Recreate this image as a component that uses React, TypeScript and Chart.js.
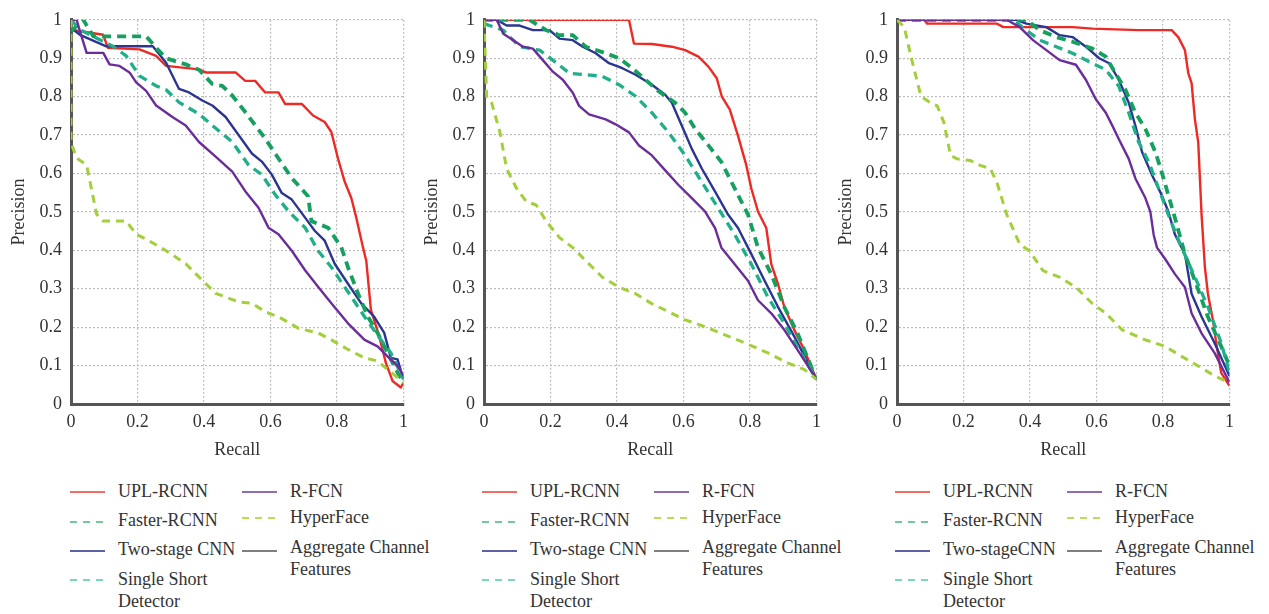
import React, { useEffect, useRef } from "react";
import { Chart, registerables } from "chart.js";

Chart.register(...registerables);

// ---------- Data (recall, precision) ----------
const X_TICK_LABELS = ["0", "0.2", "0.4", "0.6", "0.8", "1"];
const Y_TICK_LABELS = ["0", "0.1", "0.2", "0.3", "0.4", "0.5", "0.6", "0.7", "0.8", "0.9", "1"];

const NAMES_A = ["UPL-RCNN", "Faster-RCNN", "Two-stage CNN", "Single Short Detector", "R-FCN", "HyperFace", "Aggregate Channel Features"];
const NAMES_B = ["UPL-RCNN", "Faster-RCNN", "Two-stageCNN", "Single Short Detector", "R-FCN", "HyperFace", "Aggregate Channel Features"];

// Panel 1
const P1_UPL = [[0,0.974],[0.097,0.961],[0.111,0.927],[0.206,0.923],[0.256,0.906],[0.286,0.88],[0.385,0.871],[0.405,0.863],[0.495,0.863],[0.524,0.841],[0.554,0.841],[0.584,0.811],[0.624,0.811],[0.644,0.781],[0.694,0.781],[0.728,0.751],[0.763,0.734],[0.783,0.708],[0.803,0.639],[0.823,0.579],[0.843,0.536],[0.858,0.485],[0.878,0.408],[0.888,0.373],[0.902,0.245],[0.927,0.176],[0.947,0.107],[0.967,0.06],[0.992,0.043],[1,0.056]];
const P1_FASTER = [[0,0.97],[0.037,1.0],[0.067,0.957],[0.226,0.957],[0.256,0.927],[0.286,0.9],[0.345,0.884],[0.385,0.87],[0.425,0.833],[0.455,0.828],[0.485,0.803],[0.524,0.76],[0.584,0.691],[0.624,0.639],[0.664,0.588],[0.713,0.541],[0.723,0.476],[0.773,0.459],[0.813,0.408],[0.833,0.356],[0.863,0.288],[0.893,0.227],[0.922,0.185],[0.952,0.133],[0.982,0.082],[1,0.056]];
const P1_TWOSTAGE = [[0,0.979],[0.027,0.961],[0.106,0.931],[0.246,0.931],[0.286,0.888],[0.325,0.82],[0.355,0.811],[0.395,0.79],[0.425,0.777],[0.465,0.747],[0.504,0.7],[0.544,0.652],[0.574,0.631],[0.604,0.597],[0.634,0.549],[0.664,0.532],[0.704,0.485],[0.733,0.451],[0.763,0.425],[0.793,0.365],[0.833,0.313],[0.873,0.262],[0.912,0.227],[0.942,0.185],[0.962,0.12],[0.982,0.116],[1,0.064]];
const P1_SSD = [[0,1.0],[0.027,0.974],[0.126,0.931],[0.166,0.906],[0.206,0.854],[0.256,0.828],[0.286,0.818],[0.325,0.785],[0.385,0.755],[0.425,0.725],[0.485,0.682],[0.534,0.622],[0.574,0.597],[0.614,0.545],[0.654,0.502],[0.704,0.459],[0.743,0.399],[0.783,0.356],[0.823,0.305],[0.883,0.227],[0.932,0.167],[0.962,0.133],[1,0.064]];
const P1_RFCN = [[0,1.0],[0.017,1.0],[0.027,0.97],[0.047,0.914],[0.097,0.914],[0.116,0.884],[0.146,0.88],[0.176,0.863],[0.196,0.837],[0.226,0.815],[0.256,0.777],[0.305,0.747],[0.345,0.725],[0.385,0.682],[0.435,0.644],[0.485,0.605],[0.524,0.554],[0.564,0.511],[0.594,0.459],[0.624,0.442],[0.664,0.399],[0.704,0.348],[0.743,0.305],[0.783,0.262],[0.833,0.21],[0.883,0.167],[0.922,0.15],[0.952,0.124],[0.982,0.099],[1,0.073]];
const P1_HYPER = [[0,1.0],[0,0.68],[0.017,0.64],[0.047,0.622],[0.077,0.494],[0.097,0.476],[0.166,0.476],[0.196,0.442],[0.226,0.429],[0.286,0.399],[0.345,0.365],[0.395,0.322],[0.435,0.288],[0.504,0.266],[0.544,0.262],[0.584,0.24],[0.624,0.227],[0.684,0.197],[0.743,0.185],[0.783,0.167],[0.833,0.142],[0.883,0.12],[0.922,0.112],[0.952,0.09],[0.982,0.069],[1,0.056]];
const P1_ACF: number[][] = [];

// Panel 2
const P2_UPL = [[0,1],[0.436,1],[0.451,0.938],[0.505,0.937],[0.565,0.93],[0.605,0.921],[0.645,0.904],[0.675,0.878],[0.7,0.848],[0.715,0.801],[0.739,0.767],[0.764,0.698],[0.789,0.621],[0.804,0.561],[0.824,0.501],[0.849,0.458],[0.864,0.364],[0.884,0.313],[0.903,0.253],[0.933,0.193],[0.963,0.141],[1,0.064]];
const P2_FASTER = [[0,1],[0.137,1],[0.187,0.973],[0.227,0.96],[0.267,0.96],[0.306,0.93],[0.366,0.913],[0.406,0.9],[0.446,0.874],[0.486,0.844],[0.525,0.814],[0.575,0.784],[0.605,0.758],[0.635,0.716],[0.675,0.673],[0.714,0.63],[0.754,0.561],[0.794,0.493],[0.824,0.407],[0.864,0.338],[0.903,0.253],[0.943,0.184],[1,0.064]];
const P2_TWOSTAGE = [[0,1],[0.038,1],[0.068,0.985],[0.107,0.985],[0.147,0.973],[0.197,0.973],[0.227,0.951],[0.267,0.947],[0.297,0.93],[0.336,0.913],[0.376,0.887],[0.416,0.874],[0.456,0.857],[0.505,0.831],[0.545,0.805],[0.565,0.784],[0.595,0.724],[0.625,0.664],[0.655,0.613],[0.695,0.553],[0.734,0.493],[0.764,0.458],[0.804,0.39],[0.844,0.321],[0.884,0.253],[0.933,0.176],[1,0.064]];
const P2_SSD = [[0,0.99],[0.058,0.973],[0.107,0.93],[0.167,0.921],[0.207,0.895],[0.257,0.861],[0.306,0.857],[0.356,0.853],[0.406,0.831],[0.456,0.801],[0.505,0.758],[0.555,0.707],[0.605,0.647],[0.655,0.578],[0.704,0.51],[0.754,0.441],[0.804,0.364],[0.854,0.278],[0.903,0.21],[0.953,0.133],[1,0.064]];
const P2_RFCN = [[0,1],[0.038,1],[0.058,0.964],[0.088,0.947],[0.117,0.93],[0.147,0.925],[0.177,0.895],[0.207,0.865],[0.237,0.844],[0.267,0.81],[0.286,0.776],[0.316,0.754],[0.366,0.741],[0.396,0.728],[0.436,0.707],[0.466,0.673],[0.505,0.647],[0.545,0.608],[0.585,0.57],[0.625,0.536],[0.665,0.501],[0.695,0.458],[0.714,0.407],[0.754,0.364],[0.794,0.321],[0.824,0.27],[0.864,0.236],[0.903,0.193],[0.943,0.141],[1,0.064]];
const P2_HYPER = [[0,1],[0.008,0.8],[0.023,0.784],[0.048,0.707],[0.068,0.613],[0.098,0.561],[0.127,0.527],[0.157,0.518],[0.187,0.476],[0.227,0.433],[0.267,0.407],[0.306,0.373],[0.356,0.33],[0.406,0.304],[0.456,0.287],[0.505,0.261],[0.565,0.236],[0.605,0.219],[0.665,0.201],[0.724,0.18],[0.784,0.159],[0.854,0.133],[0.913,0.107],[0.963,0.09],[1,0.064]];
const P2_ACF: number[][] = [];

// Panel 3
const P3_UPL = [[0,1],[0.081,1],[0.091,0.99],[0.3,0.99],[0.32,0.981],[0.528,0.981],[0.588,0.977],[0.727,0.973],[0.826,0.973],[0.846,0.955],[0.866,0.921],[0.876,0.861],[0.886,0.835],[0.896,0.741],[0.906,0.681],[0.911,0.587],[0.916,0.493],[0.926,0.356],[0.935,0.287],[0.95,0.219],[0.96,0.159],[0.975,0.081],[1,0.047]];
const P3_FASTER = [[0,1],[0.389,1],[0.429,0.973],[0.479,0.955],[0.528,0.943],[0.588,0.925],[0.628,0.904],[0.657,0.861],[0.687,0.818],[0.717,0.758],[0.747,0.716],[0.777,0.656],[0.796,0.604],[0.816,0.544],[0.836,0.484],[0.866,0.39],[0.896,0.321],[0.935,0.227],[0.975,0.15],[1,0.099]];
const P3_TWOSTAGE = [[0,1],[0.359,1],[0.389,0.99],[0.449,0.981],[0.489,0.96],[0.528,0.955],[0.568,0.93],[0.608,0.9],[0.638,0.887],[0.667,0.844],[0.697,0.784],[0.717,0.724],[0.737,0.656],[0.767,0.596],[0.796,0.544],[0.816,0.501],[0.836,0.441],[0.866,0.39],[0.886,0.287],[0.916,0.227],[0.955,0.159],[1,0.073]];
const P3_SSD = [[0,1],[0.35,1],[0.389,0.973],[0.429,0.947],[0.479,0.93],[0.528,0.913],[0.578,0.891],[0.628,0.87],[0.667,0.827],[0.697,0.758],[0.727,0.681],[0.757,0.63],[0.787,0.561],[0.816,0.493],[0.856,0.407],[0.896,0.33],[0.935,0.253],[0.975,0.159],[1,0.081]];
const P3_RFCN = [[0,1],[0.33,1],[0.369,0.981],[0.409,0.947],[0.449,0.921],[0.489,0.895],[0.538,0.883],[0.568,0.844],[0.598,0.793],[0.628,0.758],[0.648,0.724],[0.667,0.69],[0.697,0.638],[0.717,0.587],[0.747,0.536],[0.762,0.5],[0.772,0.44],[0.782,0.407],[0.806,0.378],[0.836,0.338],[0.866,0.304],[0.886,0.236],[0.916,0.184],[0.955,0.133],[1,0.056]];
const P3_HYPER = [[0,1],[0.022,0.981],[0.042,0.904],[0.072,0.801],[0.101,0.784],[0.121,0.776],[0.141,0.733],[0.161,0.647],[0.181,0.638],[0.22,0.634],[0.25,0.621],[0.28,0.613],[0.3,0.578],[0.33,0.493],[0.369,0.416],[0.399,0.398],[0.439,0.347],[0.489,0.33],[0.538,0.304],[0.588,0.261],[0.628,0.236],[0.677,0.193],[0.747,0.167],[0.806,0.15],[0.856,0.124],[0.906,0.099],[0.955,0.073],[1,0.056]];
const P3_ACF: number[][] = [];

// ---------- Styles ----------
const STYLES = [
  { color: "#ee2a24", legend: "#f03c32", width: 2.4, dash: [] as number[], ldash: "" },
  { color: "#16a060", legend: "#45b87a", width: 3.8, dash: [9, 6], ldash: "7 6" },
  { color: "#2b3593", legend: "#2b2b8a", width: 2.4, dash: [] as number[], ldash: "" },
  { color: "#1fb08a", legend: "#4ccaa8", width: 3.3, dash: [9, 6], ldash: "7 6" },
  { color: "#6b2c9c", legend: "#6a3aa0", width: 2.4, dash: [] as number[], ldash: "" },
  { color: "#a3cf3a", legend: "#a8d020", width: 3, dash: [8, 6], ldash: "7 6" },
  { color: "#555555", legend: "#555555", width: 1.5, dash: [] as number[], ldash: "" },
];

const FONT_FAMILY = "Liberation Serif";

const PANELS = [
  { left: 4, width: 411, yWidth: 67, names: NAMES_A, legendLeft: 70, series: [P1_UPL, P1_FASTER, P1_TWOSTAGE, P1_SSD, P1_RFCN, P1_HYPER, P1_ACF] },
  { left: 417, width: 411, yWidth: 67, names: NAMES_A, legendLeft: 482, series: [P2_UPL, P2_FASTER, P2_TWOSTAGE, P2_SSD, P2_RFCN, P2_HYPER, P2_ACF] },
  { left: 831, width: 410, yWidth: 66, names: NAMES_B, legendLeft: 895, series: [P3_UPL, P3_FASTER, P3_TWOSTAGE, P3_SSD, P3_RFCN, P3_HYPER, P3_ACF] },
];

const CANVAS_H = 470;

function PRChart({ panel }: { panel: typeof PANELS[number] }) {
  const ref = useRef<HTMLCanvasElement | null>(null);
  useEffect(() => {
    if (!ref.current) return;
    const order = [5, 4, 3, 1, 2, 0, 6];
    const datasets = order.map((i) => ({
      label: panel.names[i],
      data: panel.series[i].map(([x, y]) => ({ x, y })),
      borderColor: STYLES[i].color,
      backgroundColor: STYLES[i].color,
      borderWidth: STYLES[i].width,
      borderDash: STYLES[i].dash,
      pointRadius: 0,
      showLine: true,
      fill: false,
      tension: 0,
      borderCapStyle: "butt" as const,
      borderJoinStyle: "round" as const,
    }));
    const font = { family: FONT_FAMILY, size: 18 };
    const chart = new Chart(ref.current, {
      type: "scatter",
      data: { datasets },
      options: {
        responsive: false,
        animation: false,
        events: [],
        layout: { padding: { top: 17, right: 10, bottom: 5, left: 0 } },
        plugins: { legend: { display: false }, tooltip: { enabled: false }, title: { display: false } },
        scales: {
          x: {
            type: "linear",
            min: 0,
            max: 1,
            afterBuildTicks: (s: any) => {
              s.ticks = X_TICK_LABELS.map((_, i) => ({ value: i * 0.2 }));
            },
            afterFit: (s: any) => { s.height = 61; },
            grid: { color: "#bdbdbd", lineWidth: 1.2, drawTicks: false },
            border: { display: true, color: "#555", width: 3, dash: [2, 2] },
            ticks: {
              padding: 7,
              color: "#333",
              font,
              maxRotation: 0,
              callback: (_v: any, i: number) => X_TICK_LABELS[i],
            },
            title: { display: true, text: "Recall", color: "#333", font, padding: { top: 4, bottom: 4 } },
          },
          y: {
            type: "linear",
            min: 0,
            max: 1,
            afterBuildTicks: (s: any) => {
              s.ticks = Y_TICK_LABELS.map((_, i) => ({ value: i / 10 }));
            },
            afterFit: (s: any) => { s.width = panel.yWidth; },
            grid: { color: "#bdbdbd", lineWidth: 1.2, drawTicks: false },
            border: { display: true, color: "#555", width: 3, dash: [2, 2] },
            ticks: {
              padding: 9,
              color: "#333",
              font,
              callback: (_v: any, i: number) => Y_TICK_LABELS[i],
            },
            title: { display: true, text: "Precision", color: "#333", font, padding: { top: 4, bottom: 4 } },
          },
        },
      },
    });
    return () => chart.destroy();
  }, [panel]);
  return (
    <canvas
      ref={ref}
      width={panel.width}
      height={CANVAS_H}
      style={{ position: "absolute", left: panel.left, top: 0, width: panel.width, height: CANVAS_H }}
    />
  );
}

function LegendItem({ x, y, lines, styleIdx, lineY }: { x: number; y: number; lines: string[]; styleIdx: number; lineY: number }) {
  const st = STYLES[styleIdx];
  return (
    <>
      <svg style={{ position: "absolute", left: x, top: lineY - 3 }} width={35} height={6}>
        <line x1={0} y1={3} x2={35} y2={3} stroke={st.legend} strokeWidth={1.6} strokeDasharray={st.ldash || undefined} />
      </svg>
      <div
        style={{
          position: "absolute",
          left: x + 48,
          top: y - 11,
          fontFamily: FONT_FAMILY,
          fontSize: 18,
          lineHeight: "22px",
          color: "#333",
          whiteSpace: "nowrap",
        }}
      >
        {lines.map((l, i) => (
          <div key={i}>{l}</div>
        ))}
      </div>
    </>
  );
}

function Legend({ panel }: { panel: typeof PANELS[number] }) {
  const L = panel.legendLeft;
  const n = panel.names;
  return (
    <>
      <LegendItem x={L} y={491} lineY={492} styleIdx={0} lines={[n[0]]} />
      <LegendItem x={L} y={520} lineY={522} styleIdx={1} lines={[n[1]]} />
      <LegendItem x={L} y={549} lineY={551} styleIdx={2} lines={[n[2]]} />
      <LegendItem x={L} y={579} lineY={580} styleIdx={3} lines={["Single Short", "Detector"]} />
      <LegendItem x={L + 172} y={491} lineY={492} styleIdx={4} lines={[n[4]]} />
      <LegendItem x={L + 172} y={517} lineY={518} styleIdx={5} lines={[n[5]]} />
      <LegendItem x={L + 172} y={547} lineY={551} styleIdx={6} lines={["Aggregate Channel", "Features"]} />
    </>
  );
}

export default function App() {
  return (
    <div style={{ position: "absolute", left: 0, top: 0, width: 1269, height: 614, background: "#fff", overflow: "hidden" }}>
      {PANELS.map((p, i) => (
        <React.Fragment key={i}>
          <PRChart panel={p} />
          <Legend panel={p} />
        </React.Fragment>
      ))}
    </div>
  );
}
